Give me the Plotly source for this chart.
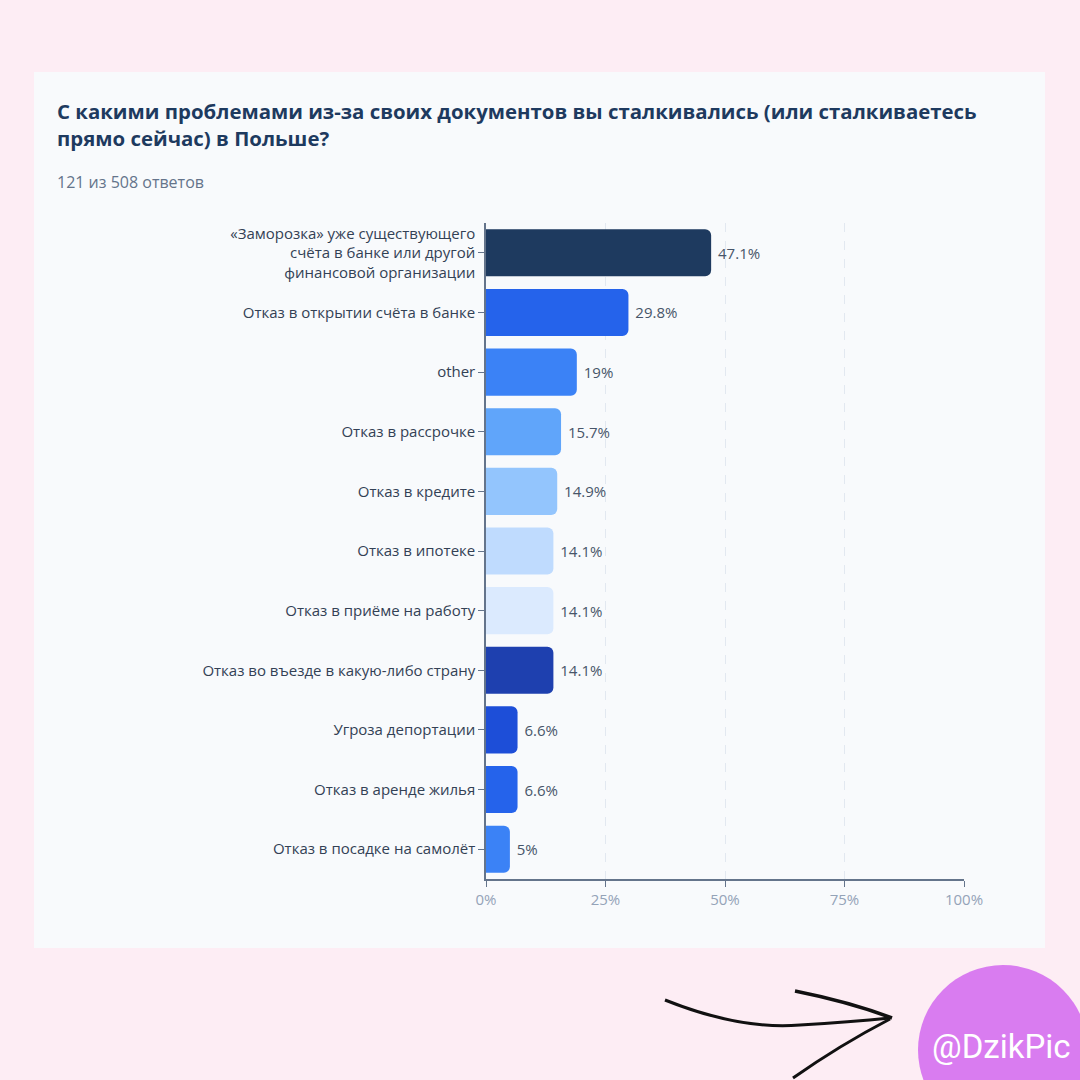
import plotly.graph_objects as go

categories = [
    "«Заморозка» уже существующего<br>счёта в банке или другой<br>финансовой организации",
    "Отказ в открытии счёта в банке",
    "other",
    "Отказ в рассрочке",
    "Отказ в кредите",
    "Отказ в ипотеке",
    "Отказ в приёме на работу",
    "Отказ во въезде в какую-либо страну",
    "Угроза депортации",
    "Отказ в аренде жилья",
    "Отказ в посадке на самолёт",
]
values = [47.1, 29.8, 19, 15.7, 14.9, 14.1, 14.1, 14.1, 6.6, 6.6, 5]
bar_colors = ["#1e3a5f", "#2563eb", "#3b82f6", "#60a5fa", "#93c5fd", "#bfdbfe",
              "#dbeafe", "#1e40af", "#1d4ed8", "#2563eb", "#3b82f6"]
x_ticks = [0, 25, 50, 75, 100]
x_tick_labels = ["0%", "25%", "50%", "75%", "100%"]
title_text = "С какими проблемами из-за своих документов вы сталкивались (или сталкиваетесь<br>прямо сейчас) в Польше?"
subtitle_text = "121 из 508 ответов"
watermark_text = "@DzikPic"
labels = ["\u00a0" + f"{v:g}%" for v in values]

W, H = 1080, 1080
L, R, T, B = 486, 964, 223, 879  # plot area in pixels


def px(x):
    return (x - L) / (R - L)


def py(y):
    return (B - y) / (B - T)


fig = go.Figure(go.Bar(
    x=values, y=categories, orientation="h",
    marker=dict(color=bar_colors, line=dict(width=0)),
    text=labels, textposition="outside",
    textfont=dict(size=15, color="#475569", family="Open Sans"),
    cliponaxis=False, width=0.79,
))

shapes = [
    # card
    dict(type="rect", xref="paper", yref="paper", x0=px(34), x1=px(1045), y0=py(948), y1=py(72),
         fillcolor="#f8fafc", line=dict(width=0), layer="below"),
    # badge circle
    dict(type="circle", xref="paper", yref="paper", x0=px(918), x1=px(1088), y0=py(1135), y1=py(965),
         fillcolor="#d97cf0", line=dict(width=0), layer="above"),
    # hand-drawn arrow
    dict(type="path", xref="paper", yref="paper",
         path=(f"M {px(665)},{py(1000)} Q {px(740)},{py(1030)} {px(800)},{py(1025)} "
               f"Q {px(850)},{py(1022)} {px(890)},{py(1018)}"),
         line=dict(color="#111111", width=3)),
    dict(type="path", xref="paper", yref="paper",
         path=f"M {px(795)},{py(991)} Q {px(850)},{py(1002)} {px(892)},{py(1018)}",
         line=dict(color="#111111", width=3.5)),
    dict(type="path", xref="paper", yref="paper",
         path=f"M {px(890)},{py(1019)} Q {px(840)},{py(1045)} {px(793)},{py(1078)}",
         line=dict(color="#111111", width=3)),
]

annotations = [
    dict(text=f"<b>{title_text}</b>", xref="paper", yref="paper", x=px(55), y=py(95),
         xanchor="left", yanchor="top", align="left", showarrow=False,
         font=dict(size=20.4, color="#1e3a5f", family="Open Sans")),
    dict(text=subtitle_text, xref="paper", yref="paper", x=px(55), y=py(182),
         xanchor="left", yanchor="middle", align="left", showarrow=False,
         font=dict(size=16, color="#64748b", family="Open Sans")),
    dict(text=watermark_text, xref="paper", yref="paper", x=px(1001), y=py(1046),
         xanchor="center", yanchor="middle", showarrow=False,
         font=dict(size=33, color="#ffffff", family="Roboto")),
]

fig.update_layout(
    width=W, height=H,
    margin=dict(l=L, r=W - R, t=T, b=H - B, pad=0),
    paper_bgcolor="#fdedf4", plot_bgcolor="rgba(0,0,0,0)",
    barcornerradius=6,
    showlegend=False,
    shapes=shapes, annotations=annotations,
    xaxis=dict(range=[0, 100], tickvals=x_ticks, ticktext=x_tick_labels,
               showgrid=True, gridcolor="#e2e8f0", griddash="dash", gridwidth=1,
               zeroline=False, showline=True, linecolor="#64748b", linewidth=1.5,
               ticks="outside", ticklen=6, tickcolor="#64748b",
               tickfont=dict(size=15, color="#94a3b8", family="Open Sans"), fixedrange=True),
    yaxis=dict(autorange="reversed", showgrid=False, zeroline=False,
               showline=True, linecolor="#64748b", linewidth=1.5,
               ticks="outside", ticklen=6, tickcolor="#64748b",
               tickfont=dict(size=15, color="#334155", family="Open Sans"), fixedrange=True),
)

fig.write_html(
    "out.html",
    config={"displayModeBar": False},
    post_script="document.body.style.margin='0';document.body.style.background='#fdedf4';",
)
